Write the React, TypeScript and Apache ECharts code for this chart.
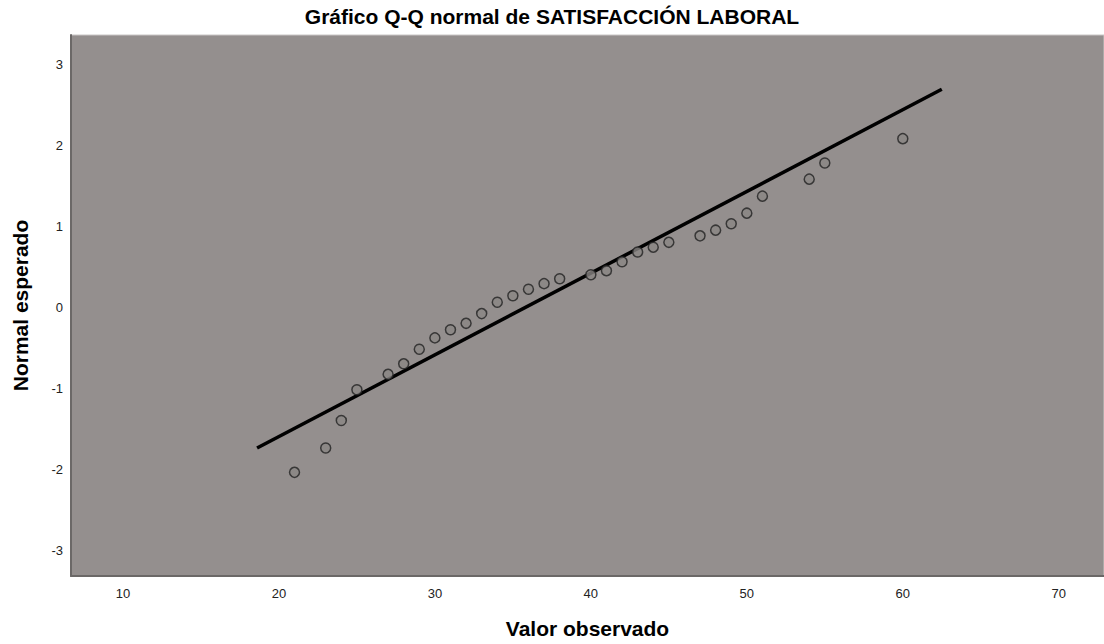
import React, { useEffect, useRef } from "react";
import * as echarts from "echarts";

const observed = [21, 23, 24, 25, 27, 28, 29, 30, 31, 32, 33, 34, 35, 36, 37, 38, 40, 41, 42, 43, 44, 45, 47, 48, 49, 50, 51, 54, 55, 60];
const expectedNormal = [-2.03, -1.73, -1.39, -1.01, -0.82, -0.69, -0.51, -0.37, -0.27, -0.19, -0.07, 0.07, 0.15, 0.23, 0.3, 0.36, 0.41, 0.46, 0.57, 0.69, 0.75, 0.81, 0.89, 0.96, 1.04, 1.17, 1.38, 1.59, 1.79, 2.09];
const refLineX = [18.6, 62.5];
const refLineY = [-1.73, 2.7];
const xTicks = [10, 20, 30, 40, 50, 60, 70];
const yTicks = [-3, -2, -1, 0, 1, 2, 3];

export default function App() {
  const ref = useRef<HTMLDivElement>(null);
  useEffect(() => {
    if (!ref.current) return;
    const chart = echarts.init(ref.current, null, { renderer: "svg" });
    const font = "'Liberation Sans', Arial, sans-serif";
    chart.setOption({
      animation: false,
      backgroundColor: "#ffffff",
      textStyle: { fontFamily: font },
      title: {
        text: "Gráfico Q-Q normal de SATISFACCIÓN LABORAL",
        left: "center",
        top: 6,
        padding: 0,
        textStyle: { fontFamily: font, fontSize: 21, fontWeight: "bold", color: "#000" },
      },
      grid: {
        left: 71,
        right: 0,
        top: 35,
        bottom: 67,
        show: true,
        backgroundColor: "#948f8e",
        borderColor: "#c9c6c5",
        borderWidth: 1,
      },
      xAxis: {
        type: "value",
        min: 6.67,
        max: 72.9,
        name: "Valor observado",
        nameLocation: "middle",
        nameGap: 42,
        nameTextStyle: { fontFamily: font, fontSize: 21, fontWeight: "bold", color: "#000" },
        axisLine: { show: true, onZero: false, lineStyle: { color: "#6b6867", width: 2 } },
        axisTick: { show: false },
        splitLine: { show: false },
        axisLabel: { customValues: xTicks, color: "#222", fontSize: 13, fontFamily: font, margin: 11 },
      },
      yAxis: {
        type: "value",
        min: -3.31,
        max: 3.37,
        name: "Normal esperado",
        nameLocation: "middle",
        nameGap: 40,
        nameRotate: 90,
        nameTextStyle: { fontFamily: font, fontSize: 21, fontWeight: "bold", color: "#000" },
        axisLine: { show: true, onZero: false, lineStyle: { color: "#6b6867", width: 2 } },
        axisTick: { show: false },
        splitLine: { show: false },
        axisLabel: { customValues: yTicks, color: "#222", fontSize: 13, fontFamily: font, margin: 8 },
      },
      series: [
        {
          type: "line",
          data: refLineX.map((x, i) => [x, refLineY[i]]),
          showSymbol: false,
          symbol: "none",
          lineStyle: { color: "#000", width: 3.5 },
          z: 2,
        },
        {
          type: "scatter",
          data: observed.map((x, i) => [x, expectedNormal[i]]),
          symbol: "circle",
          symbolSize: 10,
          itemStyle: { color: "#8a8685", borderColor: "#222", borderWidth: 1.5 },
          z: 3,
        },
      ],
    });
    return () => chart.dispose();
  }, []);
  return <div ref={ref} style={{ position: "fixed", left: 0, top: 0, width: 1104, height: 644 }} />;
}
